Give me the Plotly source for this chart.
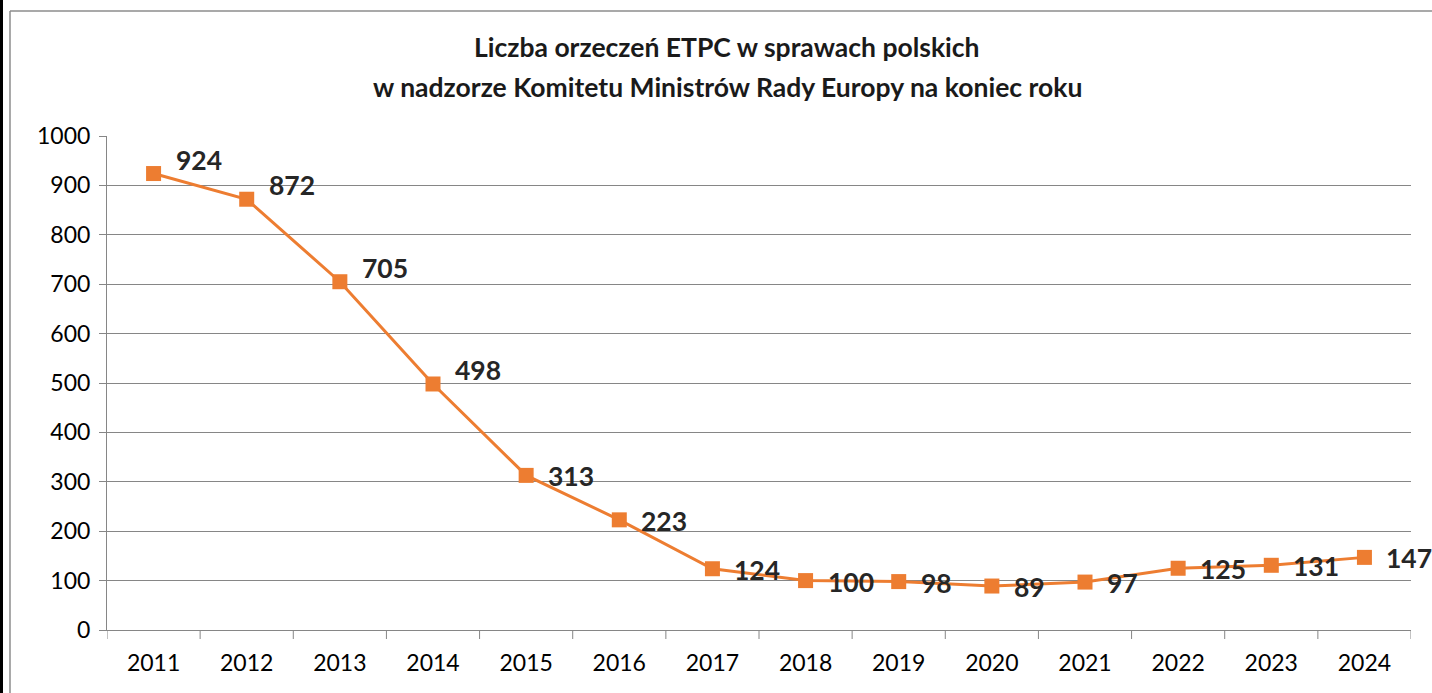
import plotly.graph_objects as go

years = ["2011", "2012", "2013", "2014", "2015", "2016", "2017",
         "2018", "2019", "2020", "2021", "2022", "2023", "2024"]
values = [924, 872, 705, 498, 313, 223, 124, 100, 98, 89, 97, 125, 131, 147]
title_lines = ["Liczba orzeczeń ETPC w sprawach polskich",
               "w nadzorze Komitetu Ministrów Rady Europy na koniec roku"]
y_ticks = [0, 100, 200, 300, 400, 500, 600, 700, 800, 900, 1000]

W, H = 1432, 693
L, R, T, B = 107, 21, 136, 63
pw, ph = W - L - R, H - T - B

ORANGE = "#ED7D31"
FONT = "Lato, Carlito, Calibri, sans-serif"

fig = go.Figure()
fig.add_trace(go.Scatter(
    x=list(range(len(years))), y=values, mode="lines+markers",
    line=dict(color=ORANGE, width=3),
    marker=dict(symbol="square", size=15, color=ORANGE),
    hoverinfo="skip", showlegend=False, cliponaxis=False,
))

# data labels
for i, v in enumerate(values):
    ys = 14 if v > 400 else -1
    fig.add_annotation(x=i, y=v, text=str(v), showarrow=False,
                       xanchor="left", yanchor="middle", xshift=20, yshift=ys,
                       font=dict(family=FONT, size=26.5, color="#262626", weight="bold"))

# title
for k, line in enumerate(title_lines):
    fig.add_annotation(xref="paper", yref="paper",
                       x=(727 - L) / pw, y=(H - B - (47 + 40 * k)) / ph,
                       text="<b>" + line + "</b>", showarrow=False,
                       xanchor="center", yanchor="middle",
                       font=dict(family=FONT, size=26.5, color="#1a1a1a"))

# x tick marks at category boundaries
for i in range(len(years) + 1):
    fig.add_shape(type="line", xref="x", yref="paper",
                  x0=i - 0.5, x1=i - 0.5, y0=0, y1=-9 / ph,
                  line=dict(color="#868686", width=1))

# chart frame
fig.add_shape(type="line", xref="paper", yref="paper",
              x0=(10 - L) / pw, x1=(W + 5 - L) / pw,
              y0=(H - B - 11) / ph, y1=(H - B - 11) / ph,
              line=dict(color="#8c8c8c", width=1.5))
fig.add_shape(type="line", xref="paper", yref="paper",
              x0=(10 - L) / pw, x1=(10 - L) / pw,
              y0=(H - B - 11) / ph, y1=-(B + 5) / ph,
              line=dict(color="#8c8c8c", width=1.5))
fig.add_shape(type="rect", xref="paper", yref="paper",
              x0=-(L + 2) / pw, x1=(3 - L) / pw, y0=-(B + 5) / ph, y1=(H - B + 5) / ph,
              line=dict(width=0), fillcolor="black")

fig.update_layout(
    width=W, height=H,
    margin=dict(l=L, r=R, t=T, b=B),
    paper_bgcolor="white", plot_bgcolor="white",
    font=dict(family=FONT, color="#000000"),
    xaxis=dict(
        tickmode="array", tickvals=list(range(len(years))), ticktext=years,
        range=[-0.5, len(years) - 0.5], showgrid=False, zeroline=False,
        showline=True, linecolor="#868686", linewidth=1,
        ticks="", tickfont=dict(size=23, family=FONT, color="#000"),
        ticklabelstandoff=12, fixedrange=True,
    ),
    yaxis=dict(
        range=[0, 1000], tickvals=y_ticks, showgrid=True,
        gridcolor="#868686", gridwidth=1, zeroline=False,
        showline=True, linecolor="#868686", linewidth=1,
        ticks="outside", ticklen=7, tickcolor="#868686",
        tickfont=dict(size=23, family=FONT, color="#000"),
        ticklabelstandoff=4, fixedrange=True,
    ),
)

fig.write_html("out.html", config={"displayModeBar": False},
               post_script="document.body.style.margin='0';document.body.style.overflow='hidden';")
